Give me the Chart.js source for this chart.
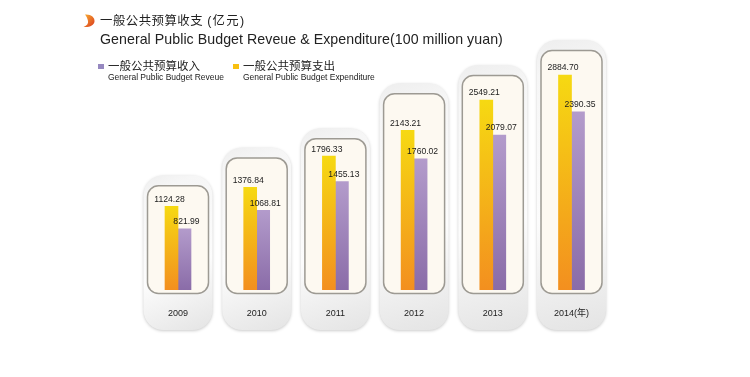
<!DOCTYPE html>
<html>
<head>
<meta charset="utf-8">
<script src="https://cdn.jsdelivr.net/npm/chart.js@4"></script>
<style>
html, body { margin: 0; padding: 0; background: #fff; }
#wrap { position: relative; width: 750px; height: 377px; overflow: hidden; font-family: "Liberation Sans", "Noto Sans CJK SC", sans-serif; color: #222; }
#wrap canvas { position: absolute; left: 0; top: 0; }
.txt { position: absolute; white-space: nowrap; line-height: 1; }
.sw { position: absolute; width: 6px; height: 5px; }
</style>
</head>
<body>
<div id="wrap">
  <canvas id="myChart" width="750" height="377"></canvas>
  <svg style="position:absolute;left:82px;top:14px" width="14" height="14" viewBox="0 0 14 14">
    <defs><linearGradient id="moon" x1="0" y1="0" x2="1" y2="1"><stop offset="0" stop-color="#f9b233"/><stop offset="1" stop-color="#d9381e"/></linearGradient></defs>
    <path d="M3 0.5 C9 0 13 3.5 12.5 7.5 C12 11 8 13.5 1.5 13 C5 11.5 6.5 9.5 6 7 C5.5 4.5 4.5 2.5 3 0.5 Z" fill="url(#moon)"/>
  </svg>
  <div class="txt" style="left:100px;top:15px;font-size:12.4px;letter-spacing:.5px"><span id="titleCn"></span><span id="titleUnit" style="margin-left:4px;letter-spacing:1.3px"></span></div>
  <div class="txt" id="titleEn" style="left:100px;top:32px;font-size:14.2px;letter-spacing:.05px"></div>
  <div class="sw" style="left:98px;top:64px;background:#9688c0"></div>
  <div class="txt" id="leg1Cn" style="left:108px;top:61px;font-size:11.5px"></div>
  <div class="txt" id="leg1En" style="left:108px;top:73px;font-size:8.5px;letter-spacing:-.03px"></div>
  <div class="sw" style="left:233px;top:64px;background:#f8c010"></div>
  <div class="txt" id="leg2Cn" style="left:243px;top:61px;font-size:11.5px"></div>
  <div class="txt" id="leg2En" style="left:243px;top:73px;font-size:8.5px;letter-spacing:-.03px"></div>
</div>
<script>
var years = ['2009', '2010', '2011', '2012', '2013', '2014(年)'];
var expenditure = [1124.28, 1376.84, 1796.33, 2143.21, 2549.21, 2884.70];
var revenue = [821.99, 1068.81, 1455.13, 1760.02, 2079.07, 2390.35];

var titleCn = '一般公共预算收支';
var titleUnit = '(亿元)';
var titleEn = 'General Public Budget Reveue & Expenditure(100 million yuan)';
var revenueCn = '一般公共预算收入';
var revenueEn = 'General Public Budget Reveue';
var expenditureCn = '一般公共预算支出';
var expenditureEn = 'General Public Budget Expenditure';

document.getElementById('titleCn').textContent = titleCn;
document.getElementById('titleUnit').textContent = titleUnit;
document.getElementById('titleEn').textContent = titleEn;
document.getElementById('leg1Cn').textContent = revenueCn;
document.getElementById('leg1En').textContent = revenueEn;
document.getElementById('leg2Cn').textContent = expenditureCn;
document.getElementById('leg2En').textContent = expenditureEn;

function roundRect(ctx, x, y, w, h, r) {
    ctx.beginPath();
    ctx.roundRect(x, y, w, h, r);
}

// the white cards behind each year. room above the tall bar differs per card in the original
var headroom = [31, 40, 28, 47, 35, 35];
var cards = {
    id: 'cards',
    beforeDatasetsDraw: function(chart) {
        var ctx = chart.ctx;
        var xs = chart.scales.x, ys = chart.scales.y;
        var base = ys.getPixelForValue(0);
        for (var i = 0; i < years.length; i++) {
            var cx = xs.getPixelForValue(i);
            var top = ys.getPixelForValue(expenditure[i]) - headroom[i];

            ctx.save();
            var g = ctx.createLinearGradient(cx - 34, top, cx + 34, base + 40);
            g.addColorStop(0, '#eeeeee');
            g.addColorStop(0.12, '#f6f6f6');
            g.addColorStop(0.6, '#fcfcfc');
            g.addColorStop(1, '#e4e4e4');
            ctx.shadowColor = 'rgba(0,0,0,0.2)';
            ctx.shadowBlur = 3;
            ctx.shadowOffsetY = 1;
            ctx.fillStyle = g;
            roundRect(ctx, cx - 34.5, top, 69, base + 40 - top, 20);
            ctx.fill();
            ctx.restore();

            ctx.save();
            ctx.fillStyle = '#fdf9f1';
            ctx.strokeStyle = '#9d9a93';
            ctx.lineWidth = 1.5;
            roundRect(ctx, cx - 30.5, top + 10.5, 61, base + 3.5 - top - 10.5, 11);
            ctx.fill();
            ctx.stroke();
            ctx.restore();
        }
    }
};

// value labels above the bars
var valueLabels = {
    id: 'valueLabels',
    afterDatasetsDraw: function(chart) {
        var ctx = chart.ctx;
        ctx.save();
        ctx.font = '8.6px "Liberation Sans", sans-serif';
        ctx.fillStyle = '#1c1c1c';
        ctx.textAlign = 'center';
        ctx.textBaseline = 'middle';
        chart.data.datasets.forEach(function(ds, d) {
            var shift = d == 0 ? -2 : 2;
            chart.getDatasetMeta(d).data.forEach(function(bar, i) {
                ctx.fillText(ds.data[i].toFixed(2), bar.x + shift, bar.y - 7);
            });
        });
        ctx.restore();
    }
};

function barGradient(topColor, bottomColor) {
    return function(c) {
        var chart = c.chart;
        if (!chart.chartArea || c.dataIndex === undefined) return bottomColor;
        var ys = chart.scales.y;
        var g = chart.ctx.createLinearGradient(0, ys.getPixelForValue(c.raw), 0, ys.getPixelForValue(0));
        g.addColorStop(0, topColor);
        g.addColorStop(1, bottomColor);
        return g;
    };
}

var myChart = new Chart(document.getElementById('myChart').getContext('2d'), {
    type: 'bar',
    data: {
        labels: years,
        datasets: [
            { label: expenditureEn, data: expenditure, backgroundColor: barGradient('#f6d912', '#f38f1f'), barThickness: 13 },
            { label: revenueEn, data: revenue, backgroundColor: barGradient('#b39bcb', '#8a6ca8'), barThickness: 13 }
        ]
    },
    options: {
        responsive: false,
        animation: false,
        layout: { padding: { left: 138.65, right: 139.15, top: 36.7, bottom: 47 } },
        plugins: { legend: { display: false }, title: { display: false }, tooltip: { enabled: false } },
        scales: {
            x: {
                grid: { display: false, drawTicks: false },
                border: { display: false },
                afterFit: function(s) { s.height = 40; },
                // z above the cards, they are painted right before the bars
                ticks: { z: 1, padding: 18, maxRotation: 0, color: '#222', font: { size: 9, family: '"Liberation Sans", "Noto Sans CJK SC", sans-serif' } }
            },
            y: { display: false, min: 0, max: 3400 }
        }
    },
    plugins: [cards, valueLabels]
});
</script>
</body>
</html>
